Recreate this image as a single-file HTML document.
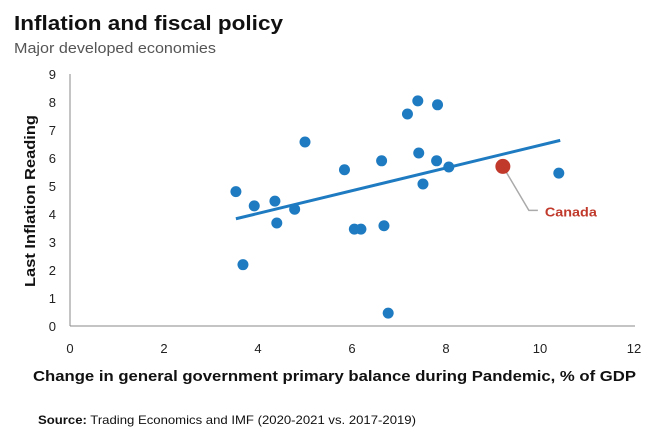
<!DOCTYPE html>
<html><head><meta charset="utf-8"><style>
body{margin:0;background:#fff;width:660px;height:438px;overflow:hidden;font-family:"Liberation Sans",sans-serif}
</style></head><body>
<svg width="660" height="438" style="font-family:'Liberation Sans',sans-serif">
<text x="14" y="30" font-size="20" font-weight="bold" fill="#111" textLength="269" lengthAdjust="spacingAndGlyphs">Inflation and fiscal policy</text>
<text x="14" y="53" font-size="15" fill="#555" textLength="202" lengthAdjust="spacingAndGlyphs">Major developed  economies</text>
<g id="axes"></g>
<g id="marks"></g>
<text x="33" y="381" font-size="15" font-weight="bold" fill="#111" textLength="603" lengthAdjust="spacingAndGlyphs">Change in general government primary balance during Pandemic, % of GDP</text>
<text transform="translate(35,287) rotate(-90)" font-size="15" font-weight="bold" fill="#111" textLength="172" lengthAdjust="spacingAndGlyphs">Last Inflation Reading</text>
<text x="38" y="424" font-size="12" fill="#111" textLength="378" lengthAdjust="spacingAndGlyphs"><tspan font-weight="bold">Source:</tspan> Trading Economics and IMF (2020-2021  vs. 2017-2019)</text>
</svg>
<script>
const xVals=[3.53,3.92,4.36,4.40,4.78,5.0,3.68,5.84,6.63,7.18,7.40,7.82,7.42,7.80,8.06,7.51,6.05,6.19,6.68,6.77,10.40];
const yVals=[4.8,4.29,4.46,3.68,4.17,6.57,2.19,5.58,5.90,7.57,8.04,7.90,6.18,5.90,5.68,5.07,3.46,3.46,3.58,0.46,5.46];
const canada=[9.21,5.70];
const trendX=[3.53,10.43];
const trendY=[3.83,6.63];
const xTicks=[0,2,4,6,8,10,12];
const yTicks=[0,1,2,3,4,5,6,7,8,9];
const NS='http://www.w3.org/2000/svg';
const sx=v=>70+v*47, sy=v=>326-v*28;
function mk(t,a,p){const e=document.createElementNS(NS,t);for(const k in a)e.setAttribute(k,a[k]);p.appendChild(e);return e;}
const ax=document.getElementById('axes'), mg=document.getElementById('marks');
let l=mk('line',{x1:70,y1:sy(9),x2:70,y2:326,stroke:'#888','stroke-width':1},ax);


l=mk('line',{x1:70,y1:326,x2:635,y2:326,stroke:'#888','stroke-width':1},ax);


xTicks.forEach(v=>{const t=mk('text',{x:sx(v),y:353,'font-size':13,'text-anchor':'middle',fill:'#222'},ax);t.textContent=v;

});
yTicks.forEach(v=>{const t=mk('text',{x:56,y:sy(v)+5,'font-size':13,'text-anchor':'end',fill:'#222'},ax);t.textContent=v;

});
const tl=mk('line',{x1:sx(trendX[0]),y1:sy(trendY[0]),x2:sx(trendX[1]),y2:sy(trendY[1]),stroke:'#1f7bc1','stroke-width':3},mg);


xVals.forEach((x,i)=>{const c=mk('circle',{cx:sx(x),cy:sy(yVals[i]),r:5.5,fill:'#1f7bc1'},mg);

});
const cx=sx(canada[0]),cy=sy(canada[1]);
const ld=mk('polyline',{points:`${cx},${cy} ${cx+26},${cy+44} ${cx+35},${cy+44}`,fill:'none',stroke:'#aaa','stroke-width':1.5},mg);


const cc=mk('circle',{cx:cx,cy:cy,r:7.5,fill:'#c0392b'},mg);


const ct=mk('text',{x:cx+42,y:cy+50,'font-size':13,'font-weight':'bold',fill:'#c0392b',textLength:52,lengthAdjust:'spacingAndGlyphs'},mg);
ct.textContent='Canada';


</script>
</body></html>
